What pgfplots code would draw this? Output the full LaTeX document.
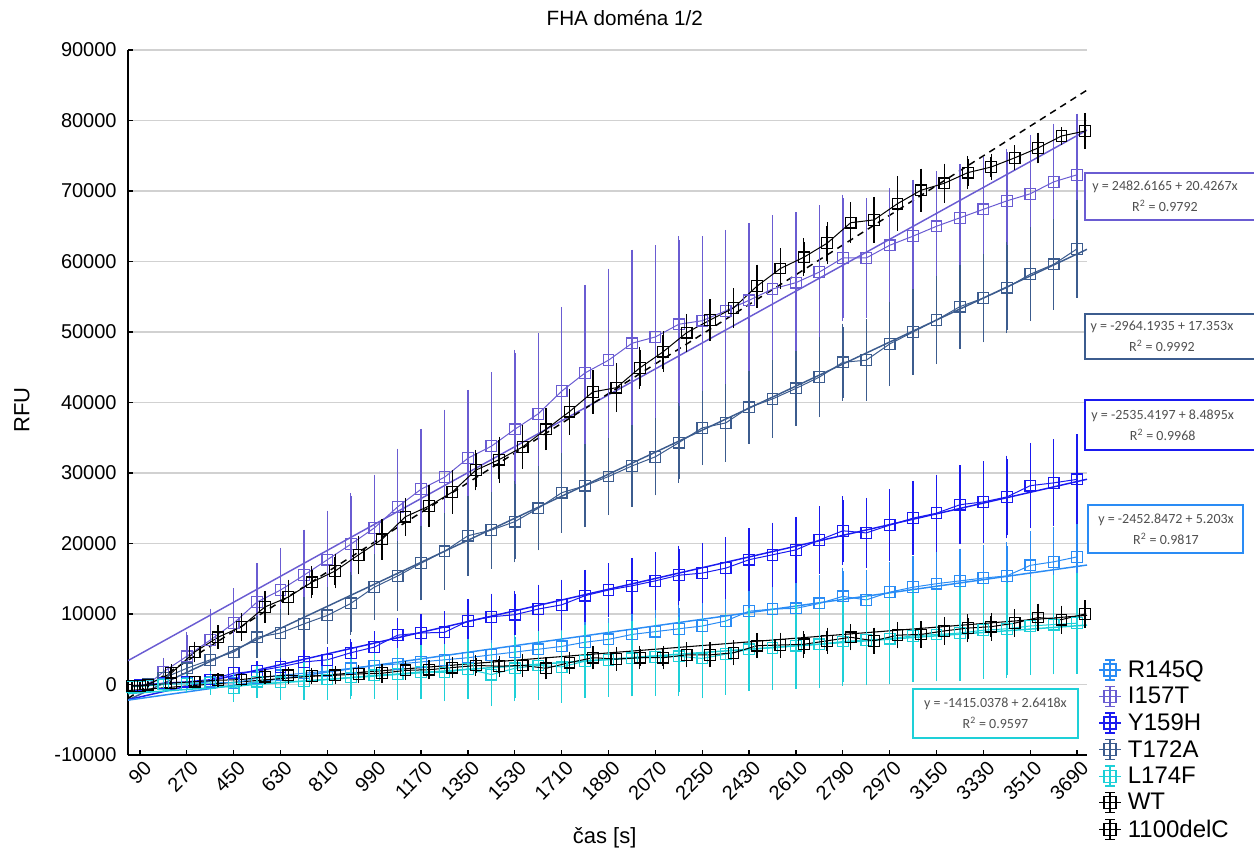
\documentclass[border=0pt]{standalone}
\usepackage{pgfplots}
\pgfplotsset{compat=1.18}
\usepackage{fontspec}
\setmainfont{Liberation Sans}
\newfontfamily\cali{Carlito}
\definecolor{cR}{HTML}{2A8CF5}
\definecolor{cI}{HTML}{6A5CD2}
\definecolor{cY}{HTML}{1A1AF0}
\definecolor{cT}{HTML}{3C5C8E}
\definecolor{cL}{HTML}{1ED0D8}
\definecolor{boxtext}{HTML}{505050}
\pgfplotsset{
  ser/.style={color=#1, mark=square, mark size=4pt, mark options={solid, fill=none, line width=0.9pt},
    line width=0.75pt,
    error bars/.cd, y dir=both, y explicit,
    error bar style={line width=1.1pt},
    error mark options={solid, mark size=2.5pt, line width=1pt}},
  fit/.style={color=#1, line width=1.1pt, forget plot, mark=none},
}
\begin{document}
\begin{tikzpicture}
\useasboundingbox (0,0) rectangle (940.5pt,639pt);
\begin{axis}[
  at={(96pt,72.75pt)}, anchor=south west,
  scale only axis, width=719.25pt, height=528.75pt,
  xmin=44, xmax=3728, ymin=-10000, ymax=90000,
  axis x line*=bottom, axis y line*=left,
  axis line style={line width=1.2pt},
  xtick={90,270,...,3690}, ytick={-10000,0,...,90000},
  scaled y ticks=false, scaled x ticks=false,
  /pgf/number format/set thousands separator={},
  /pgf/number format/assume math mode=true,
  ymajorgrids, grid style={line width=1.1pt, color=black!18},
  tick style={line width=1pt, black}, major tick length=4pt,
  ticklabel style={font=\fontsize{15}{17}\selectfont},
  yticklabel style={xshift=-5pt},
  xticklabel style={rotate=45, anchor=north east, inner sep=1pt, yshift=-3pt},
  title={FHA doména 1/2},
  every axis title shift=0pt,
  title style={font=\fontsize{15.5}{18}\selectfont, at={(axis description cs:0.518,1.045)}, anchor=center, yshift=0pt},
  xlabel={čas [s]},
  xlabel style={font=\fontsize{16.5}{19}\selectfont, at={(axis description cs:0.497,-0.118)}, anchor=center},
  ylabel={RFU},
  ylabel style={font=\fontsize{16.5}{19}\selectfont, at={(axis description cs:-0.1105,0.489)}, anchor=center},
  legend style={at={(axis description cs:1.012,0.138)}, anchor=north west, draw=none, fill=none,
    font=\fontsize{18}{20}\selectfont, inner sep=0pt, row sep=1.9pt,
    /tikz/every odd column/.append style={column sep=3pt}},
  legend cell align=left,
  legend image code/.code={
    \draw[#1, mark=none, line width=0.8pt] (0pt,0pt) -- (16pt,0pt);
    \draw[#1, mark=none, line width=1pt] (8pt,-7.5pt) -- (8pt,7.5pt) (4.5pt,-7.5pt) -- (11.5pt,-7.5pt) (4.5pt,7.5pt) -- (11.5pt,7.5pt);
    \draw[#1, mark=none, line width=0.8pt] (3.5pt,-4.5pt) rectangle (12.5pt,4.5pt);
  },
]
% fit lines
\addplot[fit=cI] coordinates {(44,3381.4) (3728,78633.3)};
\addplot[fit=cT] coordinates {(44,-2200.7) (3728,61727.8)};
\addplot[fit=cY] coordinates {(44,-2161.9) (3728,29113.5)};
\addplot[fit=cR] coordinates {(44,-2223.9) (3728,16944.0)};
\addplot[fit=cL] coordinates {(44,-1298.8) (3728,8433.6)};
\addplot[fit=black, line width=0.8pt] coordinates {(44,-872) (3728,9811)};
\addplot[fit=black, dashed, dash pattern=on 5pt off 4pt, line width=1.1pt] coordinates {(44,-1969.5) (3728,84310)};

% R145Q
\addplot[ser=cR] table[x=t,y=y,y error=e] {
t y e
60 -200 200
90 -100 200
120 0 200
180 100 300
270 300 400
360 400 500
450 200 700
540 900 800
630 1300 900
720 1600 1000
810 1900 1100
900 2300 1200
990 2700 1400
1080 2900 1500
1170 3200 1700
1260 3500 1800
1350 3800 2000
1440 4200 2100
1530 4600 2200
1620 5000 2300
1710 5400 2400
1800 6000 2500
1890 6400 2600
1980 7100 2700
2070 7500 2800
2160 7900 2900
2250 8300 3000
2340 9000 3100
2430 10400 3200
2520 10700 3300
2610 10800 3400
2700 11500 3500
2790 12500 3600
2880 12000 3700
2970 13100 3800
3060 13800 3900
3150 14300 4000
3240 14700 4100
3330 15100 4200
3420 15400 4300
3510 16900 4400
3600 17400 4500
3690 18100 4600
};
\addlegendentry{R145Q}
% I157T
\addplot[ser=cI] table[x=t,y=y,y error=e] {
t y e
60 -300 300
90 -200 300
120 0 300
180 1800 1500
270 4000 3000
360 6300 4000
450 8700 4500
540 11700 5000
630 13400 5500
720 15500 6000
810 17700 6500
900 19900 6800
990 22200 7100
1080 25200 7800
1170 27700 8100
1260 29400 9100
1350 32100 9200
1440 33800 10000
1530 36200 10800
1620 38400 11000
1710 41600 11500
1800 44200 12000
1890 46000 12500
1980 48400 12800
2070 49300 12500
2160 51100 12000
2250 51600 11500
2340 53000 11000
2430 54500 10500
2520 56100 10000
2610 57000 9500
2700 58500 9000
2790 60500 8500
2880 60500 8000
2970 62300 7600
3060 63600 7500
3150 65000 7300
3240 66200 7100
3330 67400 7000
3420 68600 6900
3510 69600 7900
3600 71300 7800
3690 72300 8200
};
\addlegendentry{I157T}
% Y159H
\addplot[ser=cY] table[x=t,y=y,y error=e] {
t y e
60 -200 200
90 -100 200
120 0 200
180 200 400
270 400 500
360 700 600
450 1600 800
540 1900 900
630 2500 1000
720 3200 1200
810 3500 1300
900 4500 1500
990 5300 1800
1080 7000 2000
1170 7300 2200
1260 7400 2500
1350 9000 2600
1440 9600 2800
1530 9900 2900
1620 10700 3000
1710 11300 3100
1800 12600 3200
1890 13400 3300
1980 14000 3500
2070 14700 3600
2160 15500 3700
2250 15800 3800
2340 16500 3900
2430 17700 4000
2520 18400 4100
2610 19100 4200
2700 20500 4300
2790 21800 4400
2880 21500 4500
2970 22600 4600
3060 23600 4800
3150 24300 5000
3240 25500 5100
3330 25900 5300
3420 26600 5400
3510 28200 5600
3600 28600 5700
3690 29100 5900
};
\addlegendentry{Y159H}
% T172A
\addplot[ser=cT] table[x=t,y=y,y error=e] {
t y e
60 -300 300
90 -200 300
120 100 400
180 900 800
270 2300 1200
360 3500 1500
450 4600 2000
540 6700 2500
630 7300 3000
720 8600 3300
810 9800 3600
900 11500 4000
990 13800 4200
1080 15400 4500
1170 17200 4800
1260 18900 5000
1350 21100 5200
1440 21900 5000
1530 23100 5300
1620 25000 5500
1710 27200 5200
1800 28200 5400
1890 29500 5000
1980 31000 5300
2070 32300 5000
2160 34300 5200
2250 36400 4800
2340 37100 5000
2430 39300 4700
2520 40500 5000
2610 42000 4800
2700 43600 5200
2790 45700 5000
2880 46000 5300
2970 48300 5500
3060 50000 5600
3150 51700 5800
3240 53600 5500
3330 54800 5800
3420 56300 6000
3510 58200 6200
3600 59600 6000
3690 61800 6500
};
\addlegendentry{T172A}
% L174F
\addplot[ser=cL] table[x=t,y=y,y error=e] {
t y e
60 -300 300
90 -300 300
120 -200 300
180 0 600
270 100 900
360 200 1200
450 -500 1500
540 400 1800
630 300 2000
720 500 2200
810 700 2400
900 1000 2600
990 1300 2900
1080 1500 3200
1170 1800 3400
1260 1700 3600
1350 2200 3800
1440 1400 4000
1530 2300 4200
1620 2700 4400
1710 2500 4600
1800 3300 4700
1890 3500 4800
1980 3700 4900
2070 3900 5000
2160 4000 5100
2250 3700 5200
2340 4300 5300
2430 5000 5400
2520 5200 5500
2610 5500 5600
2700 5700 5700
2790 6100 5800
2880 6300 5900
2970 6500 6000
3060 6900 6100
3150 7100 6200
3240 7300 6300
3330 7700 6400
3420 7900 6500
3510 8300 6500
3600 8500 6600
3690 8700 6700
};
\addlegendentry{L174F}
% WT (lower black)
\addplot[ser=black] table[x=t,y=y,y error=e] {
t y e
60 -200 200
90 -200 200
120 -100 200
210 200 300
300 400 400
390 600 500
480 700 500
570 1100 600
660 1300 700
750 1200 700
840 1300 800
930 1500 800
1020 1600 900
1110 2000 900
1200 2100 900
1290 2400 1000
1380 2700 1000
1470 2600 1000
1560 2700 1100
1650 2300 1100
1740 3100 1100
1830 3800 1200
1920 3600 1200
2010 3800 1200
2100 3800 1200
2190 4200 1300
2280 4200 1300
2370 4500 1300
2460 5500 1300
2550 5600 1300
2640 5700 1400
2730 6200 1400
2820 6700 1400
2910 6200 1400
3000 7000 1400
3090 7100 1400
3180 7600 1500
3270 8000 1500
3360 8200 1500
3450 8700 1500
3540 9500 1500
3630 9200 1500
3720 10000 1500
};
\addlegendentry{WT}
% 1100delC (upper black)
\addplot[ser=black] table[x=t,y=y,y error=e] {
t y e
60 -200 200
90 -200 200
120 0 300
210 1600 800
300 4600 1000
390 6700 1200
480 8200 1500
570 11000 1800
660 12400 2000
750 14500 1800
840 16100 2000
930 18400 2200
1020 20600 2400
1110 23800 2200
1200 25300 2500
1290 27300 2600
1380 30400 2400
1470 31900 2800
1560 33700 2600
1650 36200 2500
1740 38700 2800
1830 41500 2600
1920 42100 3000
2010 44900 2500
2100 47200 2400
2190 49900 2200
2280 51700 2500
2370 53400 2300
2460 56500 2600
2550 59000 2400
2640 60600 2200
2730 62600 2500
2820 65500 2400
2910 65900 2800
3000 68200 3400
3090 70100 2600
3180 71100 2300
3270 72600 1900
3360 73400 1400
3450 74700 1300
3540 76100 1700
3630 77800 800
3720 78500 2100
};
\addlegendentry{1100delC}
\end{axis}
% regression boxes
\begin{scope}[every node/.style={font=\cali\fontsize{10.5}{16}\selectfont, text=boxtext, align=center}]
\draw[cI, line width=1.5pt, fill=white] (813.75pt,474pt) rectangle (946pt,509.25pt);
\node at (873.75pt,491.6pt) {y = 2482.6165 + 20.4267x\\R\textsuperscript{2} = 0.9792};
\draw[cT, line width=1.5pt, fill=white] (813.75pt,369.75pt) rectangle (946pt,403.5pt);
\node at (871.5pt,386.6pt) {y = -2964.1935 + 17.353x\\R\textsuperscript{2} = 0.9992};
\draw[cY, line width=1.5pt, fill=white] (813.75pt,301.5pt) rectangle (946pt,339pt);
\node at (872pt,320.25pt) {y = -2535.4197 + 8.4895x\\R\textsuperscript{2} = 0.9968};
\draw[cR, line width=1.5pt, fill=white] (816pt,224.25pt) rectangle (932.25pt,260.25pt);
\node at (874.5pt,242.25pt) {y = -2452.8472 + 5.203x\\R\textsuperscript{2} = 0.9817};
\draw[cL, line width=1.5pt, fill=white] (684.75pt,85.5pt) rectangle (808.5pt,122.25pt);
\node at (746.6pt,103.9pt) {y = -1415.0378 + 2.6418x\\R\textsuperscript{2} = 0.9597};
\end{scope}
\end{tikzpicture}
\end{document}
